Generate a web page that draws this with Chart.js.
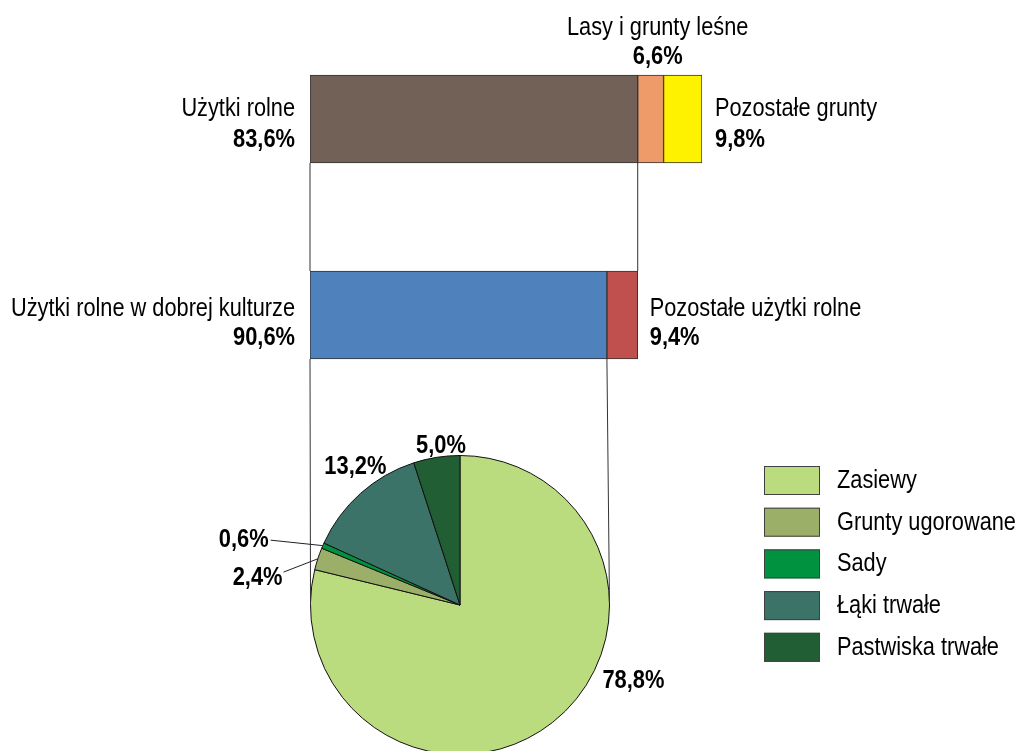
<!DOCTYPE html>
<html><head><meta charset="utf-8">
<script src="https://cdn.jsdelivr.net/npm/chart.js@4"></script>
<style>
html,body{margin:0;padding:0;background:#fff;overflow:hidden}
#wrap{position:relative;width:1017px;height:751px;overflow:hidden;background:#fff}
canvas{position:absolute;left:0;top:0}
</style></head><body>
<div id="wrap"><canvas id="bars" width="1017" height="751" style="width:1017px;height:751px"></canvas><canvas id="pie" width="1017" height="760" style="width:1017px;height:760px"></canvas></div>
<script>
// ---- data ----
const landCategories = ['Użytki rolne', 'Lasy i grunty leśne', 'Pozostałe grunty'];
const landShares = [83.6, 6.6, 9.8];
const agriCategories = ['Użytki rolne w dobrej kulturze', 'Pozostałe użytki rolne'];
const agriShares = [90.6, 9.4];
const cropCategories = ['Zasiewy', 'Grunty ugorowane', 'Sady', 'Łąki trwałe', 'Pastwiska trwałe'];
const cropShares = [78.8, 2.4, 0.6, 13.2, 5.0];

// ---- styles ----
const landColors = ['#716157', '#EE9B69', '#FFF200'];
const agriColors = ['#4F81BD', '#C0504D'];
const cropColors = ['#BADC7E', '#9BAF69', '#00923F', '#3C7369', '#225E34'];
const FONT = '"Liberation Sans", Arial, sans-serif';
const fmt = v => v.toFixed(1).replace('.', ',') + '%';

function txt(ctx, s, x, y, bold, align) {
  ctx.save();
  ctx.font = (bold ? 'bold 25px ' : '25px ') + FONT;
  ctx.fillStyle = '#000';
  ctx.textBaseline = 'alphabetic';
  ctx.textAlign = align;
  ctx.translate(x, y);
  ctx.scale(bold ? 0.875 : 0.87, 1);
  ctx.fillText(s, 0, 0);
  ctx.restore();
}
function line(ctx, x1, y1, x2, y2, color) {
  ctx.save();
  ctx.strokeStyle = color || '#333';
  ctx.lineWidth = 1;
  ctx.beginPath();
  ctx.moveTo(x1, y1);
  ctx.lineTo(x2, y2);
  ctx.stroke();
  ctx.restore();
}

// ---- stacked bars: second bar is drawn at the scale of "Użytki rolne" ----
const barDatasets = landShares.map((v, i) => ({
  label: landCategories[i],
  data: [v, i < agriShares.length ? agriShares[i] * landShares[0] / 100 : 0],
  backgroundColor: [landColors[i], agriColors[i] || '#fff'],
  borderColor: '#333',
  borderWidth: 1,
  borderSkipped: false,
  barThickness: 88
}));

const barLabels = {
  id: 'barLabels',
  afterDraw(chart) {
    const ctx = chart.ctx;
    const top = chart.data.datasets.map((d, i) => chart.getDatasetMeta(i).data[0]);
    const sec = chart.data.datasets.map((d, i) => chart.getDatasetMeta(i).data[1]);
    const tTop = top[0].y - top[0].height / 2, tBot = top[0].y + top[0].height / 2;
    const sTop = sec[0].y - sec[0].height / 2;
    // connecting lines between bars
    line(ctx, top[0].base, tBot, sec[0].base, sTop);
    line(ctx, top[0].x, tBot, sec[1].x, sTop);
    // top bar labels
    txt(ctx, landCategories[0], top[0].base - 15, top[0].y - 3, false, 'right');
    txt(ctx, fmt(landShares[0]), top[0].base - 15, top[0].y + 28, true, 'right');
    const cx1 = (top[1].base + top[1].x) / 2 + 7;
    txt(ctx, landCategories[1], cx1, tTop - 40, false, 'center');
    txt(ctx, fmt(landShares[1]), cx1, tTop - 11, true, 'center');
    txt(ctx, landCategories[2], top[2].x + 13, top[0].y - 3, false, 'left');
    txt(ctx, fmt(landShares[2]), top[2].x + 13, top[0].y + 28, true, 'left');
    // second bar labels
    txt(ctx, agriCategories[0], sec[0].base - 15, sec[0].y + 1, false, 'right');
    txt(ctx, fmt(agriShares[0]), sec[0].base - 15, sec[0].y + 30, true, 'right');
    txt(ctx, agriCategories[1], sec[1].x + 12, sec[0].y + 1, false, 'left');
    txt(ctx, fmt(agriShares[1]), sec[1].x + 12, sec[0].y + 30, true, 'left');
  }
};

const barChart = new Chart(document.getElementById('bars'), {
  type: 'bar',
  data: { labels: ['grunty', 'użytki'], datasets: barDatasets },
  options: {
    indexAxis: 'y',
    responsive: false,
    animation: false,
    layout: { padding: { left: 310, right: 315, top: 21, bottom: 338 } },
    scales: {
      x: { stacked: true, min: 0, max: 100, display: false },
      y: { stacked: true, display: false }
    },
    plugins: { legend: { display: false }, tooltip: { enabled: false } }
  },
  plugins: [barLabels]
});

// ---- pie ----
// label placement relative to pie centre, in units of radius: [dx, baseline dy, align]
const pieLabelPos = [
  [1.16, 0.553, 'center'],
  [-1.187, -0.133, 'right'],
  [-1.28, -0.387, 'right'],
  [-0.70, -0.873, 'center'],
  [-0.127, -1.02, 'center']
];
const leaderFrom = { 1: [1, -13], 2: [2, -7] };

const pieExtras = {
  id: 'pieExtras',
  afterDraw(chart) {
    const ctx = chart.ctx;
    const arcs = chart.getDatasetMeta(0).data;
    const a0 = arcs[0];
    const cx = a0.x, cy = a0.y, r = a0.outerRadius;
    // lines from second bar to tangent points of the pie
    const sec = barChart.data.datasets.map((d, i) => barChart.getDatasetMeta(i).data[1]);
    const sBot = sec[0].y + sec[0].height / 2;
    const tangent = (px, py, side) => {
      const d = Math.hypot(px - cx, py - cy);
      const th = Math.atan2(py - cy, px - cx);
      const ph = Math.acos(r / d);
      const c1 = [cx + r * Math.cos(th + ph), cy + r * Math.sin(th + ph)];
      const c2 = [cx + r * Math.cos(th - ph), cy + r * Math.sin(th - ph)];
      return side < 0 ? (c1[0] < c2[0] ? c1 : c2) : (c1[0] > c2[0] ? c1 : c2);
    };
    const L = tangent(sec[0].base, sBot, -1);
    const R = tangent(sec[0].x, sBot, 1);
    line(ctx, sec[0].base, sBot, L[0], L[1]);
    line(ctx, sec[0].x, sBot, R[0], R[1]);
    // labels
    arcs.forEach((a, i) => {
      const p = pieLabelPos[i];
      const lx = cx + p[0] * r, ly = cy + p[1] * r;
      txt(ctx, fmt(cropShares[i]), lx, ly, true, p[2]);
      if (leaderFrom[i]) {
        const mid = (a.startAngle + a.endAngle) / 2;
        line(ctx, lx + leaderFrom[i][0], ly + leaderFrom[i][1],
          cx + r * Math.cos(mid), cy + r * Math.sin(mid), '#222');
      }
    });
    // legend
    const bx = 764, by = 466, step = 41.7;
    cropCategories.forEach((c, i) => {
      const y = by + i * step;
      ctx.save();
      ctx.fillStyle = cropColors[i];
      ctx.fillRect(bx, y, 56, 29);
      ctx.strokeStyle = '#404040';
      ctx.lineWidth = 1;
      ctx.strokeRect(bx + 0.5, y + 0.5, 55, 28);
      ctx.restore();
      txt(ctx, c, bx + 73, y + 22, false, 'left');
    });
  }
};

new Chart(document.getElementById('pie'), {
  type: 'pie',
  data: {
    labels: cropCategories,
    datasets: [{ data: cropShares, backgroundColor: cropColors, borderColor: '#111', borderWidth: 1 }]
  },
  options: {
    responsive: false,
    animation: false,
    layout: { padding: { left: 310, right: 407, top: 455, bottom: 5 } },
    plugins: { legend: { display: false }, tooltip: { enabled: false } }
  },
  plugins: [pieExtras]
});
</script>
</body></html>
